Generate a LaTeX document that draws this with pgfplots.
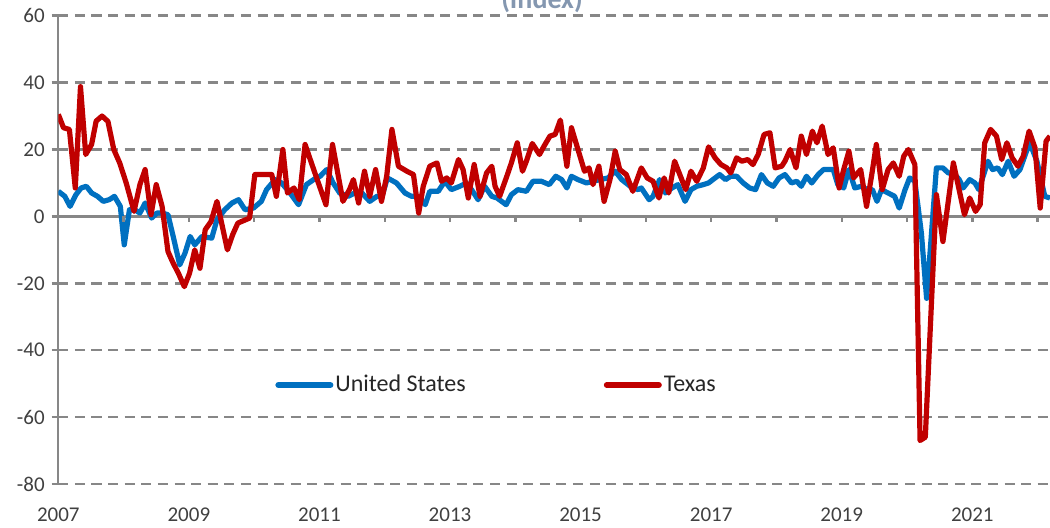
\documentclass[border=0pt]{standalone}
\usepackage{pgfplots}
\pgfplotsset{compat=1.18}
\usepackage{fontspec}
\setmainfont{Carlito}
\definecolor{usblue}{HTML}{0070C0}
\definecolor{txred}{HTML}{C00000}
\definecolor{gridgray}{HTML}{878787}
\definecolor{ticktext}{HTML}{404040}
\definecolor{titlecol}{HTML}{8497B0}

\pgfplotstableread{
x y
2007.00 7.5
2007.10 6
2007.18 3
2007.27 6.5
2007.35 8.5
2007.43 9
2007.51 7
2007.60 6
2007.69 4.5
2007.78 5
2007.86 6
2007.95 3
2008.01 -8.5
2008.09 2
2008.17 2
2008.25 1
2008.33 4
2008.43 -0.5
2008.51 1
2008.59 1
2008.68 0.5
2008.76 -6
2008.86 -14.5
2008.94 -11
2009.02 -6
2009.09 -8.5
2009.20 -6
2009.35 -6.5
2009.43 -1
2009.55 2
2009.66 4
2009.76 5
2009.86 2
2009.99 2.5
2010.11 4.5
2010.19 8
2010.32 11
2010.42 10
2010.55 7
2010.68 3.5
2010.80 9.5
2010.91 11
2011.01 12
2011.11 14
2011.21 10
2011.31 7
2011.44 6
2011.54 7
2011.65 7
2011.77 4.5
2011.88 6
2011.96 6
2012.04 11.5
2012.18 10
2012.31 7
2012.41 6
2012.51 6
2012.62 3.5
2012.69 7.5
2012.82 7.5
2012.92 10.5
2013.02 8
2013.15 9
2013.25 10
2013.33 8
2013.43 5
2013.53 9
2013.64 6
2013.72 5.5
2013.86 3.5
2013.94 6.5
2014.04 8
2014.17 7.5
2014.27 10.5
2014.40 10.5
2014.52 9.5
2014.62 12
2014.71 11
2014.79 8.5
2014.86 12
2014.96 11
2015.09 10
2015.19 10.5
2015.30 11
2015.42 11.5
2015.53 13.5
2015.63 11
2015.76 9
2015.88 8
2015.93 8.5
2016.05 5
2016.11 6
2016.21 11
2016.30 7
2016.40 8.5
2016.49 9.5
2016.60 4.5
2016.69 8
2016.78 9
2016.88 9.5
2016.96 10
2017.06 11.5
2017.13 12.5
2017.22 11
2017.30 12
2017.39 12
2017.49 10
2017.59 8.5
2017.68 8
2017.77 12.5
2017.86 10
2017.95 9
2018.04 11.5
2018.13 12.5
2018.23 10
2018.31 10.5
2018.38 9
2018.46 12
2018.54 10
2018.64 12.5
2018.72 14
2018.79 14
2018.87 14
2018.94 9.5
2019.03 8.5
2019.11 14
2019.20 8.5
2019.30 9
2019.39 8
2019.47 8
2019.54 4.5
2019.61 8
2019.71 7
2019.81 6
2019.88 2.5
2019.97 8
2020.04 11.5
2020.12 10.5
2020.22 -5
2020.30 -24.5
2020.45 14.5
2020.55 14.5
2020.63 13
2020.71 13
2020.80 11
2020.86 8.5
2020.96 11
2021.04 10
2021.10 8
2021.24 16.5
2021.31 14
2021.39 14.5
2021.46 12.5
2021.55 16.5
2021.64 12
2021.73 14
2021.83 19.5
2021.88 22
2021.99 16.5
2022.11 6
2022.19 5.5
}\ustable

\pgfplotstableread{
x y
2007.00 30.5
2007.08 26.5
2007.17 26
2007.26 8.5
2007.34 38.8
2007.42 18.5
2007.51 21.5
2007.58 28.5
2007.67 30
2007.76 28.4
2007.85 20
2007.94 16
2008.04 10
2008.16 1.5
2008.25 9.5
2008.33 14
2008.42 0.5
2008.50 9.5
2008.59 3
2008.68 -10.5
2008.76 -14
2008.84 -17
2008.93 -21
2009.01 -17
2009.09 -10
2009.17 -15.5
2009.25 -4
2009.34 -1.5
2009.43 4.5
2009.59 -10
2009.67 -5.5
2009.75 -2
2009.93 -0.5
2010.01 12.5
2010.27 12.5
2010.34 6
2010.44 20
2010.51 7
2010.61 8.5
2010.69 5
2010.78 21.5
2010.93 13
2011.10 3.5
2011.20 21.5
2011.36 4.5
2011.46 8
2011.52 11
2011.60 4
2011.69 13.5
2011.77 6
2011.86 14
2011.95 4.5
2012.03 12
2012.11 26
2012.21 15
2012.34 13.5
2012.44 12.5
2012.52 1
2012.59 9
2012.69 15
2012.80 16
2012.87 10.5
2012.95 11.5
2013.02 10
2013.13 17
2013.20 14
2013.28 5.5
2013.37 15.5
2013.46 6
2013.56 13
2013.64 15
2013.69 9
2013.76 6
2013.87 12
2013.94 16
2014.03 22
2014.11 13.5
2014.17 16.5
2014.26 21.8
2014.37 18.5
2014.44 21
2014.53 24
2014.61 24.5
2014.69 28.8
2014.79 15
2014.86 26.5
2014.96 20
2015.06 13.5
2015.13 14.5
2015.19 9.5
2015.28 15
2015.36 4.5
2015.45 11
2015.53 19.5
2015.60 14
2015.70 12.5
2015.80 7.5
2015.93 14.5
2016.02 11.5
2016.11 10.5
2016.20 5.5
2016.28 11.5
2016.35 7
2016.44 16.5
2016.53 12
2016.61 8
2016.69 13.5
2016.78 10.5
2016.88 14.5
2016.96 20.8
2017.06 17.5
2017.15 15.5
2017.24 14.5
2017.30 13
2017.39 17.5
2017.47 16.5
2017.56 17
2017.64 15.5
2017.72 18.5
2017.81 24.5
2017.90 25
2017.98 14.5
2018.08 15
2018.13 16.5
2018.21 20
2018.30 14.5
2018.38 24
2018.46 18.5
2018.55 25.5
2018.62 22
2018.70 27
2018.79 18.5
2018.87 20.5
2018.96 8.5
2019.03 14
2019.11 19.5
2019.18 11.5
2019.29 14
2019.38 3
2019.46 12.5
2019.53 21.5
2019.62 8
2019.71 14
2019.79 16
2019.88 12
2019.95 18
2020.02 20
2020.12 15.5
2020.20 -67
2020.28 -66
2020.45 6.5
2020.55 -7.5
2020.71 16
2020.88 0.5
2020.96 5.5
2021.05 1.5
2021.12 3.5
2021.19 22
2021.28 26
2021.37 24
2021.45 17
2021.53 22
2021.61 17.5
2021.70 15
2021.78 18
2021.87 25.5
2021.96 20.5
2022.04 2.5
2022.13 22.5
2022.19 24
}\txtable

\begin{document}
\begin{tikzpicture}
\begin{axis}[
  at={(0,0)}, anchor=south west,
  scale only axis, width=495.85pt, height=234.15pt,
  xmin=2007, xmax=2022.19, ymin=-80, ymax=60,
  xtick={2007,2009,2011,2013,2015,2017,2019,2021},
  xticklabels={2007,2009,2011,2013,2015,2017,2019,2021},
  ytick={-80,-60,-40,-20,20,40,60},
  yticklabels={-80,-60,-40,-20,20,40,60},
  extra y ticks={0}, extra y tick labels={0},
  extra y tick style={grid style={gridgray, line width=1.2pt, solid}},
  axis x line*=bottom, axis y line*=left,
  x axis line style={draw=none},
  xtick style={draw=none},
  y axis line style={gridgray, line width=1.2pt, -},
  ytick style={gridgray, line width=1.2pt},
  tick align=outside, major tick length=3.3pt,
  ymajorgrids,
  grid style={gridgray, line width=1.2pt, dash pattern=on 5pt off 3.3pt},
  tick label style={font=\fontsize{10.5}{12}\selectfont, text=ticktext},
  xticklabel style={yshift=-5pt},
  clip=true,
  legend columns=2,
  legend style={at={(0.2185,0.2114)}, anchor=west, draw=none, fill=none,
    font=\fontsize{12}{14}\selectfont, text=black!85, inner sep=0pt,
    nodes={inner sep=1pt},
    /tikz/every even column/.append style={column sep=68pt}},
  legend image code/.code={\draw[#1, line width=3pt, line cap=round] (0pt,0pt) -- (26pt,0pt);},
]
\addplot[usblue, line width=2.6pt, line join=round] table[x=x, y=y] {\ustable};
\addlegendentry{United States}
\addplot[txred, line width=2.6pt, line join=round] table[x=x, y=y] {\txtable};
\addlegendentry{Texas}
\pgfplotsinvokeforeach{2008,2009,2010,2011,2012,2013,2014,2015,2016,2017,2018,2019,2020,2021,2022}{
  \draw[gridgray, line width=1.2pt] (axis cs:#1,0) -- ([yshift=-3pt]axis cs:#1,0);
}
\end{axis}
\node[anchor=base, font=\bfseries\fontsize{14}{16}\selectfont, text=titlecol] at (241.85pt,238pt) {(Index)};
\pgfresetboundingbox
\useasboundingbox (-29.15pt,-21.5pt) rectangle (495.85pt,242pt);
\end{tikzpicture}
\end{document}
